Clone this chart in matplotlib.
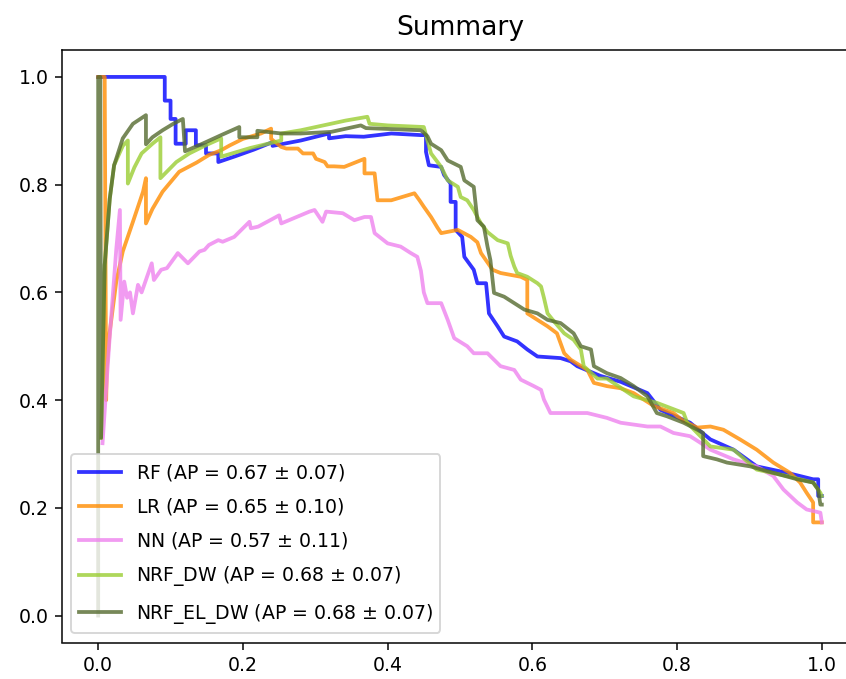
import matplotlib
matplotlib.use("Agg")
import matplotlib.pyplot as plt

# mean precision-recall curves per model
rf_recall = [0.0, 0.092, 0.092, 0.1, 0.1, 0.107, 0.107, 0.121, 0.121, 0.135, 0.135, 0.149, 0.149,
             0.166, 0.166, 0.19, 0.215, 0.241, 0.241, 0.28, 0.319, 0.319, 0.342, 0.367, 0.405,
             0.446, 0.453, 0.453, 0.457, 0.474, 0.478, 0.487, 0.487, 0.494, 0.494, 0.503, 0.506,
             0.519, 0.524, 0.536, 0.54, 0.552, 0.561, 0.579, 0.593, 0.607, 0.639, 0.653, 0.662,
             0.694, 0.722, 0.759, 0.777, 0.818, 0.846, 0.878, 0.91, 0.952, 0.988, 0.995, 0.995, 1.0]
rf_precision = [1.0, 1.0, 0.956, 0.956, 0.922, 0.922, 0.876, 0.876, 0.901, 0.901, 0.873, 0.873, 0.858,
                0.858, 0.842, 0.853, 0.865, 0.879, 0.872, 0.882, 0.895, 0.886, 0.89, 0.889, 0.895,
                0.892, 0.892, 0.861, 0.836, 0.833, 0.818, 0.802, 0.768, 0.768, 0.716, 0.703, 0.666,
                0.642, 0.617, 0.617, 0.561, 0.537, 0.518, 0.509, 0.494, 0.481, 0.478, 0.472, 0.463,
                0.445, 0.434, 0.413, 0.382, 0.358, 0.327, 0.308, 0.277, 0.265, 0.253, 0.253, 0.222, 0.222]

lr_recall = [0.0, 0.009, 0.011, 0.012, 0.016, 0.025, 0.034, 0.048, 0.062, 0.066, 0.066, 0.075, 0.089,
             0.112, 0.136, 0.153, 0.17, 0.182, 0.2, 0.225, 0.239, 0.239, 0.253, 0.26, 0.276, 0.283,
             0.297, 0.301, 0.313, 0.317, 0.326, 0.34, 0.368, 0.368, 0.382, 0.386, 0.405, 0.437,
             0.444, 0.45, 0.46, 0.469, 0.474, 0.497, 0.515, 0.524, 0.529, 0.545, 0.556, 0.584,
             0.593, 0.593, 0.607, 0.621, 0.634, 0.644, 0.653, 0.676, 0.685, 0.703, 0.722, 0.74,
             0.768, 0.795, 0.809, 0.828, 0.846, 0.864, 0.887, 0.91, 0.933, 0.956, 0.97, 0.979,
             0.988, 0.988, 1.0]
lr_precision = [1.0, 1.0, 0.4, 0.46, 0.527, 0.62, 0.676, 0.731, 0.787, 0.812, 0.728, 0.755, 0.787,
                0.824, 0.841, 0.855, 0.864, 0.873, 0.885, 0.895, 0.904, 0.885, 0.87, 0.867, 0.867, 0.858,
                0.858, 0.848, 0.842, 0.834, 0.834, 0.833, 0.848, 0.821, 0.821, 0.771, 0.771, 0.784,
                0.771, 0.759, 0.74, 0.72, 0.71, 0.716, 0.703, 0.693, 0.673, 0.642, 0.636, 0.629,
                0.623, 0.561, 0.549, 0.537, 0.524, 0.487, 0.475, 0.456, 0.432, 0.426, 0.422, 0.413,
                0.389, 0.376, 0.361, 0.349, 0.351, 0.345, 0.327, 0.308, 0.284, 0.265, 0.247, 0.228,
                0.21, 0.173, 0.173]

nn_recall = [0.006, 0.015, 0.025, 0.03, 0.031, 0.036, 0.04, 0.044, 0.048, 0.055, 0.06, 0.074, 0.077,
             0.087, 0.095, 0.108, 0.11, 0.124, 0.14, 0.147, 0.153, 0.166, 0.172, 0.188, 0.209, 0.211,
             0.221, 0.25, 0.253, 0.292, 0.299, 0.31, 0.315, 0.338, 0.354, 0.368, 0.377, 0.382, 0.4,
             0.418, 0.432, 0.441, 0.446, 0.45, 0.455, 0.474, 0.483, 0.492, 0.51, 0.519, 0.538, 0.547,
             0.556, 0.575, 0.584, 0.602, 0.612, 0.616, 0.625, 0.676, 0.703, 0.722, 0.759, 0.777,
             0.795, 0.818, 0.832, 0.846, 0.878, 0.91, 0.933, 0.947, 0.966, 0.979, 0.998, 1.0]
nn_precision = [0.32, 0.5, 0.68, 0.753, 0.549, 0.62, 0.59, 0.6, 0.561, 0.614, 0.6, 0.654, 0.623,
                0.642, 0.645, 0.669, 0.673, 0.654, 0.676, 0.679, 0.688, 0.697, 0.694, 0.703, 0.731, 0.719,
                0.722, 0.743, 0.728, 0.75, 0.753, 0.731, 0.75, 0.747, 0.734, 0.74, 0.74, 0.71, 0.691,
                0.685, 0.673, 0.666, 0.64, 0.6, 0.58, 0.58, 0.549, 0.515, 0.5, 0.487, 0.487, 0.475,
                0.463, 0.456, 0.438, 0.426, 0.419, 0.401, 0.376, 0.376, 0.367, 0.358, 0.351, 0.351,
                0.339, 0.333, 0.321, 0.308, 0.29, 0.277, 0.259, 0.234, 0.21, 0.197, 0.191, 0.173]

dw_recall = [0.004, 0.009, 0.016, 0.022, 0.034, 0.041, 0.041, 0.05, 0.06, 0.075, 0.086, 0.086, 0.108,
             0.126, 0.15, 0.17, 0.17, 0.21, 0.253, 0.253, 0.28, 0.342, 0.372, 0.375, 0.4, 0.45, 0.455,
             0.46, 0.474, 0.483, 0.497, 0.501, 0.51, 0.519, 0.524, 0.529, 0.538, 0.552, 0.566, 0.57,
             0.575, 0.579, 0.593, 0.607, 0.612, 0.616, 0.621, 0.63, 0.644, 0.657, 0.667, 0.671,
             0.69, 0.703, 0.74, 0.772, 0.809, 0.814, 0.846, 0.878, 0.91, 0.952, 0.988, 0.998, 1.0]
dw_precision = [0.33, 0.651, 0.774, 0.836, 0.872, 0.882, 0.802, 0.832, 0.858, 0.876, 0.888, 0.812, 0.842,
                0.858, 0.874, 0.886, 0.852, 0.868, 0.882, 0.895, 0.901, 0.919, 0.926, 0.913, 0.91, 0.907, 0.882,
                0.858, 0.833, 0.808, 0.796, 0.777, 0.771, 0.753, 0.74, 0.728, 0.712, 0.697, 0.691, 0.668,
                0.648, 0.636, 0.629, 0.617, 0.611, 0.59, 0.561, 0.546, 0.524, 0.512, 0.494, 0.463,
                0.44, 0.44, 0.407, 0.395, 0.376, 0.358, 0.314, 0.308, 0.271, 0.259, 0.247, 0.228, 0.222]

el_recall = [0.0, 0.0, 0.003, 0.004, 0.009, 0.016, 0.022, 0.034, 0.048, 0.066, 0.066, 0.075, 0.089,
             0.105, 0.117, 0.12, 0.144, 0.17, 0.195, 0.195, 0.22, 0.22, 0.253, 0.28, 0.322, 0.363,
             0.37, 0.446, 0.455, 0.46, 0.474, 0.483, 0.501, 0.506, 0.519, 0.524, 0.533, 0.538, 0.542,
             0.547, 0.561, 0.575, 0.589, 0.607, 0.621, 0.639, 0.657, 0.667, 0.681, 0.685, 0.703,
             0.722, 0.74, 0.759, 0.772, 0.786, 0.809, 0.828, 0.836, 0.836, 0.855, 0.869, 0.901,
             0.933, 0.966, 0.988, 0.995, 0.998, 1.0]
el_precision = [0.0, 1.0, 1.0, 0.33, 0.651, 0.774, 0.836, 0.886, 0.913, 0.929, 0.875, 0.888, 0.901,
                0.914, 0.922, 0.862, 0.876, 0.892, 0.907, 0.888, 0.888, 0.9, 0.895, 0.895, 0.898, 0.91,
                0.905, 0.901, 0.89, 0.876, 0.864, 0.845, 0.833, 0.808, 0.796, 0.734, 0.722, 0.685, 0.66,
                0.599, 0.592, 0.58, 0.568, 0.561, 0.549, 0.543, 0.524, 0.5, 0.494, 0.463, 0.45,
                0.441, 0.426, 0.407, 0.376, 0.37, 0.358, 0.345, 0.339, 0.296, 0.29, 0.284, 0.277,
                0.265, 0.253, 0.247, 0.234, 0.206, 0.206]

models = ["RF", "LR", "NN", "NRF_DW", "NRF_EL_DW"]
ap_mean = [0.67, 0.65, 0.57, 0.68, 0.68]
ap_std = [0.07, 0.10, 0.11, 0.07, 0.07]
colors = ["blue", "darkorange", "violet", "yellowgreen", "darkolivegreen"]

curves = [
    (rf_recall, rf_precision),
    (lr_recall, lr_precision),
    (nn_recall, nn_precision),
    (dw_recall, dw_precision),
    (el_recall, el_precision),
]

fig = plt.figure(figsize=(846 / 136, 679 / 136), dpi=136)
ax = fig.add_axes([62 / 846, 36.5 / 679, 796 / 846, 592.5 / 679])

for name, (rec, prec), m, s, c in zip(models, curves, ap_mean, ap_std, colors):
    ax.plot(rec, prec, color=c, lw=2, alpha=0.8,
            label=f"{name} (AP = {m:.2f} $\\pm$ {s:.2f})")

ax.set_xlim(-0.05, 1.05)
ax.set_ylim(-0.05, 1.05)
ax.set_title("Summary", fontsize=14, pad=8)
ax.legend(loc="lower left", fontsize=10, labelspacing=0.7, handlelength=2.2)

fig.savefig("out.png", dpi=136)
